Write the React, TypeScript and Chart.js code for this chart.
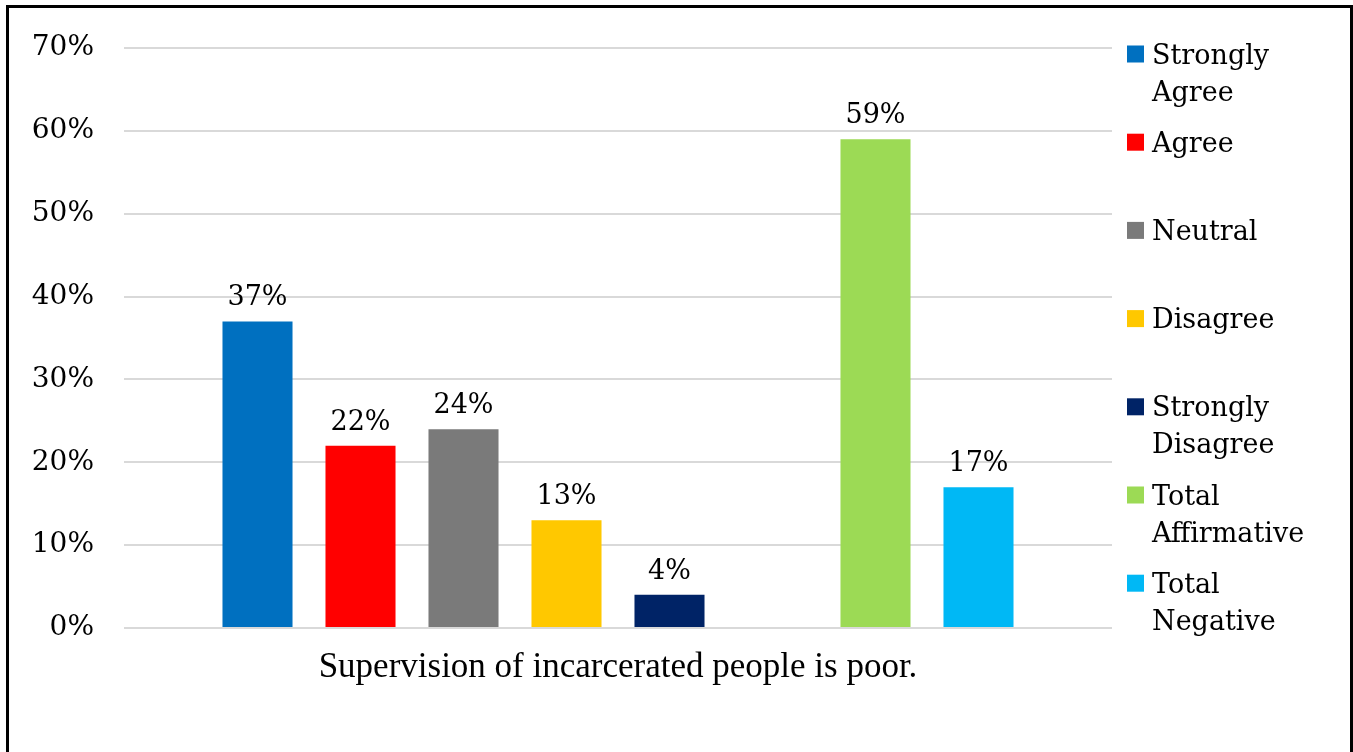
import React, { useEffect, useRef } from "react";
import { Chart, registerables } from "chart.js";

Chart.register(...registerables);

const categories = ["Supervision of incarcerated people is poor."];
const seriesNames = [
  "Strongly Agree",
  "Agree",
  "Neutral",
  "Disagree",
  "Strongly Disagree",
  "",
  "Total Affirmative",
  "Total Negative",
];
const legendLines = [
  ["Strongly", "Agree"],
  ["Agree"],
  ["Neutral"],
  ["Disagree"],
  ["Strongly", "Disagree"],
  [],
  ["Total", "Affirmative"],
  ["Total", "Negative"],
];
const seriesValues: (number | null)[] = [37, 22, 24, 13, 4, null, 59, 17];
const seriesColors = [
  "#0070C0",
  "#FF0000",
  "#7A7A7A",
  "#FFC800",
  "#002366",
  "#FFFFFF",
  "#9CDA55",
  "#00B8F5",
];
const yTicks = [0, 10, 20, 30, 40, 50, 60, 70];

const GEORGIA = "Georgia, 'DejaVu Serif', serif";

const framePlugin = {
  id: "frame",
  beforeDraw(chart: any) {
    const ctx = chart.ctx;
    ctx.save();
    ctx.fillStyle = "#ffffff";
    ctx.fillRect(0, 0, chart.width, chart.height);
    ctx.strokeStyle = "#000000";
    ctx.lineWidth = 3;
    ctx.strokeRect(7.5, 6.5, 1344, 800);
    ctx.restore();
  },
};

const labelPlugin = {
  id: "valueLabels",
  afterDatasetsDraw(chart: any) {
    const ctx = chart.ctx;
    ctx.save();
    ctx.font = `27px ${GEORGIA}`;
    ctx.fillStyle = "#000000";
    ctx.textAlign = "center";
    ctx.textBaseline = "alphabetic";
    chart.data.datasets.forEach((ds: any, i: number) => {
      const meta = chart.getDatasetMeta(i);
      meta.data.forEach((el: any, j: number) => {
        const v = ds.data[j];
        if (v === null || v === undefined) return;
        ctx.fillText(`${v}%`, el.x, el.y - 16);
      });
    });
    ctx.restore();
  },
};

const legendPlugin = {
  id: "sideLegend",
  afterDraw(chart: any) {
    const ctx = chart.ctx;
    ctx.save();
    ctx.font = `27px ${GEORGIA}`;
    ctx.textAlign = "left";
    ctx.textBaseline = "alphabetic";
    let slot = 0;
    chart.data.datasets.forEach((ds: any, i: number) => {
      const lines = legendLines[i];
      if (!lines || lines.length === 0) return;
      const cy = 54 + slot * 88.2;
      ctx.fillStyle = ds.backgroundColor;
      ctx.fillRect(1127, cy - 8.5, 17, 17);
      ctx.fillStyle = "#000000";
      lines.forEach((t: string, k: number) => {
        ctx.fillText(t, 1152, cy + 9.5 + k * 37);
      });
      slot++;
    });
    ctx.restore();
  },
};

export default function App() {
  const ref = useRef<HTMLCanvasElement | null>(null);

  useEffect(() => {
    if (!ref.current) return;
    const chart = new Chart(ref.current, {
      type: "bar",
      data: {
        labels: categories,
        datasets: seriesNames.map((name, i) => ({
          label: name,
          data: [seriesValues[i]],
          backgroundColor: seriesColors[i],
          borderWidth: 0,
          categoryPercentage: 0.834,
          barPercentage: 0.68,
        })),
      },
      options: {
        animation: false,
        responsive: false,
        maintainAspectRatio: false,
        layout: { padding: { left: 0, right: 241, top: 48, bottom: 0 } },
        plugins: {
          legend: { display: false },
          tooltip: { enabled: false },
          title: { display: false },
        },
        scales: {
          x: {
            grid: { display: false, drawTicks: false },
            border: { display: false },
            ticks: {
              color: "#000000",
              font: { family: "'Liberation Serif', 'Times New Roman', serif", size: 35 },
              padding: 19,
            },
            afterFit(scale: any) {
              scale.height = 124;
            },
          },
          y: {
            min: 0,
            max: 70,
            afterBuildTicks(scale: any) {
              scale.ticks = yTicks.map((v) => ({ value: v }));
            },
            grid: { color: "#d9d9d9", lineWidth: 2, drawTicks: false },
            border: { display: false },
            ticks: {
              color: "#000000",
              font: { family: GEORGIA, size: 28 },
              padding: 30,
              callback: (v: any) => `${v}%`,
            },
            afterFit(scale: any) {
              scale.width = 124;
            },
          },
        },
      },
      plugins: [framePlugin, labelPlugin, legendPlugin],
    });
    return () => chart.destroy();
  }, []);

  return (
    <div style={{ position: "fixed", left: 0, top: 0, width: 1353, height: 752, background: "#fff" }}>
      <canvas ref={ref} width={1353} height={752} style={{ display: "block" }} />
    </div>
  );
}
